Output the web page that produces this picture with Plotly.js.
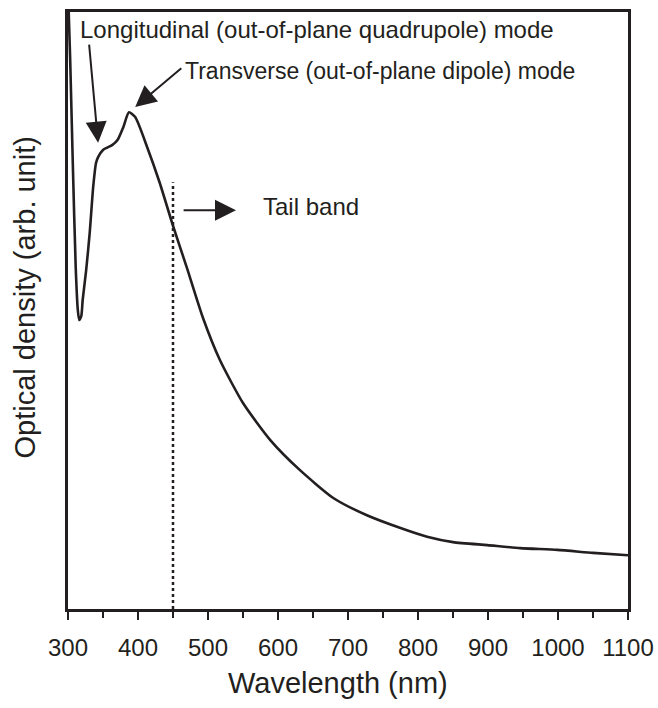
<!DOCTYPE html>
<html>
<head>
<meta charset="utf-8">
<script src="https://cdn.plot.ly/plotly-3.0.1.min.js"></script>
<style>html,body{margin:0;padding:0;background:#fff;}#chart{width:658px;height:708px;}</style>
</head>
<body>
<div id="chart"></div>
<script>
// Wavelength (nm)
const wavelength = [301, 303, 307, 311, 314, 316, 319, 321, 326, 331, 336, 340, 343, 350, 363, 371, 379, 387, 396, 413, 431, 450, 470, 493, 517, 550, 589, 631, 679, 727, 774, 813, 850, 899, 946, 999, 1050, 1100];
// Optical density (arb. unit)
const opticalDensity = [1.0, 0.925, 0.740, 0.573, 0.501, 0.484, 0.491, 0.518, 0.568, 0.630, 0.707, 0.747, 0.757, 0.769, 0.777, 0.786, 0.807, 0.832, 0.824, 0.774, 0.714, 0.642, 0.571, 0.487, 0.417, 0.345, 0.283, 0.233, 0.186, 0.157, 0.136, 0.121, 0.112, 0.107, 0.102, 0.099, 0.094, 0.090];
const tickValues = [300, 400, 500, 600, 700, 800, 900, 1000, 1100];
const tickLabels = ["300", "400", "500", "600", "700", "800", "900", "1000", "1100"];
const tailBandStart = 450;
const labels = {
  longitudinal: "Longitudinal (out-of-plane quadrupole) mode",
  transverse: "Transverse (out-of-plane dipole) mode",
  tail: "Tail band",
  xTitle: "Wavelength (nm)",
  yTitle: "Optical density (arb. unit)"
};

const FONT = "Arial, 'Liberation Sans', Helvetica, sans-serif";
const TXT = "#231f20";

const trace = {
  x: wavelength, y: opticalDensity, type: "scatter", mode: "lines",
  line: {color: "#231f20", width: 2.6, shape: "spline", smoothing: 0.6},
  hoverinfo: "skip"
};

const arrowStyle = {showarrow: true, arrowhead: 2, arrowsize: 2.1, arrowwidth: 2, arrowcolor: "#231f20", axref: "x", ayref: "y", xref: "x", yref: "y", text: ""};

const layout = {
  width: 658, height: 708,
  margin: {l: 68, r: 30, t: 12, b: 99, pad: 0},
  paper_bgcolor: "#fff", plot_bgcolor: "#fff",
  showlegend: false,
  font: {family: FONT, color: TXT, size: 24},
  xaxis: {
    range: [300, 1100], showline: true, linewidth: 3, linecolor: "#231f20", mirror: true,
    showgrid: false, zeroline: false,
    tickmode: "array", tickvals: tickValues, ticktext: tickLabels,
    ticks: "outside", ticklen: 8, tickwidth: 2.2, tickcolor: "#231f20",
    tickfont: {family: FONT, size: 24, color: TXT},
    ticklabelstandoff: 7,
    minor: {dtick: 50, tick0: 300, ticks: "outside", ticklen: 6, tickwidth: 2.2, tickcolor: "#231f20", showgrid: false}
  },
  yaxis: {
    range: [0, 1], showline: true, linewidth: 3, linecolor: "#231f20", mirror: true,
    showgrid: false, zeroline: false, showticklabels: false, ticks: ""
  },
  shapes: [
    {type: "line", xref: "x", yref: "y", x0: tailBandStart, x1: tailBandStart, y0: 0, y1: 0.715,
     line: {color: "#231f20", width: 2.5, dash: "dot"}}
  ],
  annotations: [
    {xref: "paper", yref: "paper", x: 0.482, y: -0.124, xanchor: "center", yanchor: "middle", showarrow: false,
     text: labels.xTitle, font: {family: FONT, size: 29, color: TXT}},
    {xref: "paper", yref: "paper", x: -0.076, y: 0.5226, xanchor: "center", yanchor: "middle", showarrow: false,
     textangle: -90, text: labels.yTitle, font: {family: FONT, size: 29, color: TXT}},
    {xref: "x", yref: "y", x: 314, y: 0.970, xanchor: "left", yanchor: "middle", showarrow: false,
     text: labels.longitudinal, font: {family: FONT, size: 24, color: TXT}},
    {xref: "x", yref: "y", x: 464, y: 0.901, xanchor: "left", yanchor: "middle", showarrow: false,
     text: labels.transverse, font: {family: FONT, size: 23, color: TXT}},
    {xref: "x", yref: "y", x: 576, y: 0.674, xanchor: "left", yanchor: "middle", showarrow: false,
     text: labels.tail, font: {family: FONT, size: 24, color: TXT}},
    Object.assign({}, arrowStyle, {x: 343, y: 0.781, ax: 330, ay: 0.948}),
    Object.assign({}, arrowStyle, {x: 396, y: 0.841, ax: 464, ay: 0.908}),
    Object.assign({}, arrowStyle, {x: 540, y: 0.668, ax: 463, ay: 0.668})
  ]
};

Plotly.newPlot("chart", [trace], layout, {displayModeBar: false, staticPlot: true});
</script>
</body>
</html>
